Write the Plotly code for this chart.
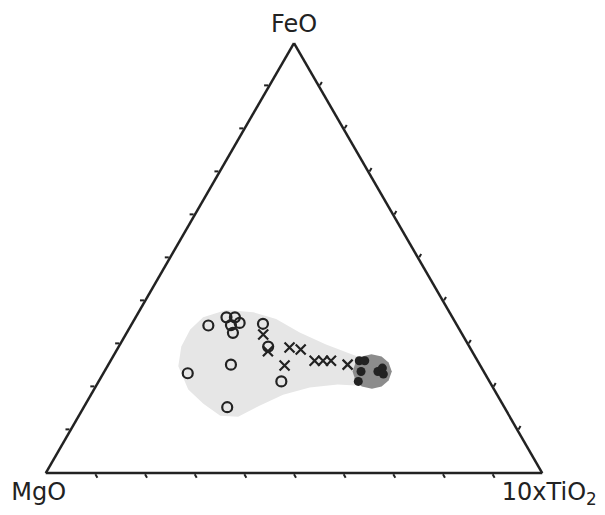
import plotly.graph_objects as go

# Compositions (percent): FeO (a), MgO (b), 10xTiO2 (c)
open_feo = [34.3, 36.2, 36.2, 34.9, 34.4, 32.6, 34.7, 29.4, 25.2, 23.2, 21.3, 15.3]
open_mgo = [50.1, 45.5, 43.8, 43.5, 45.5, 46.0, 38.9, 40.5, 50.1, 59.8, 41.9, 55.8]
open_ti = [15.6, 18.3, 20.0, 21.6, 20.1, 21.4, 26.4, 30.1, 24.7, 17.0, 36.8, 28.9]

cross_feo = [32.2, 28.3, 29.2, 28.7, 25.0, 26.1, 26.1, 26.1, 25.2]
cross_mgo = [40.1, 41.1, 36.3, 34.3, 39.4, 32.8, 31.1, 29.5, 26.6]
cross_ti = [27.7, 30.6, 34.5, 37.0, 35.6, 41.1, 42.8, 44.4, 48.2]

filled_feo = [26.1, 26.1, 23.6, 21.3, 23.6, 24.4, 23.0]
filled_mgo = [23.8, 22.7, 24.7, 26.4, 21.3, 20.0, 20.5]
filled_ti = [50.1, 51.2, 51.7, 52.3, 55.1, 55.6, 56.5]

# Outline of stippled field
field_feo = [24.8, 29.4, 33.4, 36.2, 37.9, 37.4, 35.8, 32.7, 29.9, 27.8, 26.9, 20.3,
             20.6, 19.9, 18.2, 15.7, 13.1, 13.3, 16.1, 19.4, 24.8]
field_mgo = [60.9, 58.0, 54.2, 50.2, 44.7, 39.5, 35.7, 32.5, 28.6, 24.9, 23.3, 26.6,
             30.9, 36.9, 43.1, 49.0, 54.7, 58.2, 60.2, 61.6, 60.9]
field_ti = [14.3, 12.6, 12.4, 13.6, 17.4, 23.1, 28.5, 34.8, 41.5, 47.3, 49.8, 53.1,
            48.5, 43.2, 38.7, 35.3, 32.2, 28.5, 23.7, 19.0, 14.3]

# Outline of hatched field
hatch_feo = [23.6, 25.9, 27.1, 27.6, 27.1, 25.7, 23.6, 21.5, 20.1, 19.6, 20.1, 21.3, 23.6]
hatch_mgo = [26.4, 24.6, 22.8, 20.6, 18.8, 18.1, 18.5, 20.2, 22.3, 24.5, 26.3, 26.9, 26.4]
hatch_ti = [50.0, 49.5, 50.1, 51.8, 54.1, 56.2, 57.9, 58.3, 57.6, 55.9, 53.6, 51.8, 50.0]

tick_vals = [10, 20, 30, 40, 50, 60, 70, 80, 90]

fig = go.Figure()
fig.add_trace(go.Scatterternary(a=field_feo, b=field_mgo, c=field_ti, mode="lines",
                                fill="toself", fillcolor="#e6e6e6",
                                line=dict(width=0, color="rgba(0,0,0,0)"),
                                hoverinfo="skip"))
fig.add_trace(go.Scatterternary(a=hatch_feo, b=hatch_mgo, c=hatch_ti, mode="lines",
                                fill="toself", fillcolor="#8c8c8c",
                                line=dict(width=0, color="rgba(0,0,0,0)"),
                                hoverinfo="skip"))
fig.add_trace(go.Scatterternary(a=open_feo, b=open_mgo, c=open_ti, mode="markers",
                                marker=dict(symbol="circle-open", size=10,
                                            color="#222", line=dict(width=2.2))))
fig.add_trace(go.Scatterternary(a=cross_feo, b=cross_mgo, c=cross_ti, mode="markers",
                                marker=dict(symbol="x-thin-open", size=10,
                                            color="#222", line=dict(width=2.2))))
fig.add_trace(go.Scatterternary(a=filled_feo, b=filled_mgo, c=filled_ti, mode="markers",
                                marker=dict(symbol="circle", size=9, color="#222")))

axis_common = dict(min=0, linecolor="#222", linewidth=2.5, showgrid=False,
                   tickvals=tick_vals, ticks="outside", ticklen=4,
                   tickwidth=2, tickcolor="#222", showticklabels=False)

fig.update_layout(
    width=605, height=515,
    margin=dict(l=37, r=70, t=35, b=50),
    paper_bgcolor="white",
    showlegend=False,
    font=dict(family="DejaVu Sans", color="#222"),
    ternary=dict(
        sum=100,
        bgcolor="white",
        aaxis=dict(**axis_common, title=dict(text="FeO", font=dict(size=24))),
        baxis=dict(**axis_common, title=dict(text="MgO", font=dict(size=24))),
        caxis=dict(**axis_common, title=dict(text="10xTiO<sub>2</sub>", font=dict(size=24))),
    ),
)

fig.write_html("out.html")
